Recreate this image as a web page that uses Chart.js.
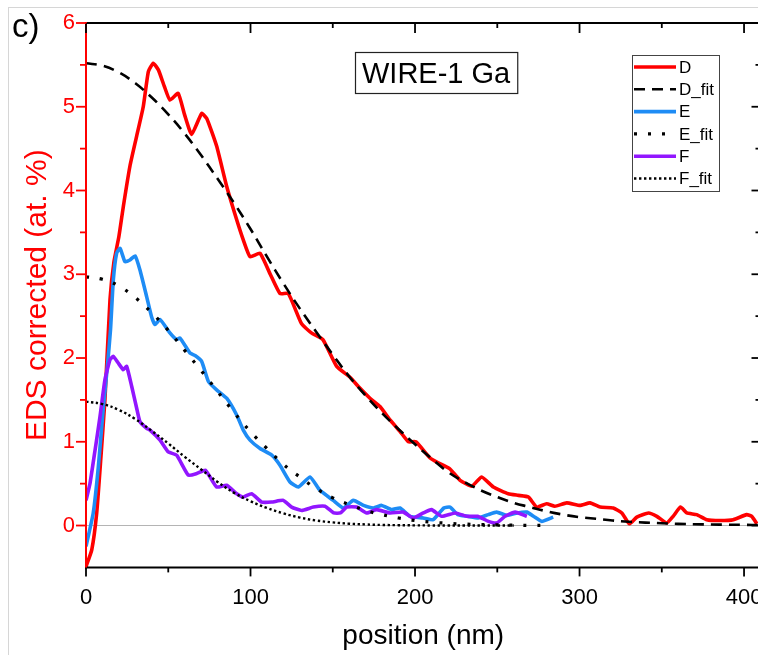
<!DOCTYPE html>
<html><head><meta charset="utf-8">
<script src="https://cdn.jsdelivr.net/npm/chart.js@4.4.1/dist/chart.umd.min.js"></script>
<style>
html,body{margin:0;padding:0;background:#fff;overflow:hidden;}
#wrap{position:relative;width:758px;height:655px;overflow:hidden;background:#fff;}
#frame{position:absolute;left:8px;top:7px;width:800px;height:700px;border-left:1px solid #d6d6d6;border-top:1px solid #d6d6d6;}
canvas{position:absolute;left:0;top:0;}
</style></head><body>
<div id="wrap"><div id="frame"></div><canvas id="c" width="766" height="655"></canvas></div>
<script>
// ---- data ----
const xTicks = [0, 100, 200, 300, 400];
const yTicks = [0, 1, 2, 3, 4, 5, 6];

const dPos = [0,3.5,6.5,9,11.5,14.6,17,20,22.7,26.7,30.8,34.8,37.9,40.9,44,47.5,51,56,60,64.2,70.3,73.4,79.4,85.5,91.6,95.6,99.7,105.8,112,117.9,123,131,137,144,152.4,160.5,166,172.6,178.7,184.8,191,196,200.5,209,213,221,227.4,234.5,240.5,247.6,256.7,262.8,268.9,274,280,285,292.2,300.3,306.4,312.5,320.5,325.7,330.3,334.8,341.9,347,353,356.9,361.4,365.2,371.2,377.3,385.4,393.5,401.6,404.7,407.8];
const dVal = [-0.49,-0.29,0.15,0.8,1.5,2.7,3.15,3.45,3.81,4.29,4.65,5.0,5.42,5.52,5.44,5.25,5.08,5.16,4.9,4.67,4.92,4.86,4.53,4.05,3.65,3.41,3.21,3.25,3.0,2.77,2.77,2.41,2.3,2.22,1.90,1.77,1.65,1.52,1.42,1.26,1.12,1.0,1.0,0.81,0.76,0.68,0.54,0.47,0.58,0.46,0.38,0.36,0.34,0.22,0.26,0.23,0.27,0.24,0.27,0.22,0.21,0.15,0.02,0.10,0.15,0.11,0.03,0.11,0.22,0.15,0.13,0.07,0.06,0.07,0.13,0.11,0.02];

const ePos = [0,4.4,7.5,10.5,13,14.9,16.6,18.6,20.7,23.7,26.7,29.8,32.8,36.9,39.9,41.9,45,51,55.1,57.1,63.2,66.3,70.3,74.4,79.4,85.5,91.6,95.6,99.7,105.8,112.9,117.9,124,129.1,136.2,142.2,150.3,156.4,162.5,168.7,174.7,179.8,185.8,190.9,197,205,211,217.5,221.3,226,232,238.5,244.5,249.6,256,262.1,268,272,277,284];
const eVal = [-0.25,0.15,0.70,1.4,1.9,2.34,2.93,3.25,3.31,3.15,3.17,3.22,3.05,2.73,2.49,2.40,2.46,2.30,2.22,2.24,2.06,2.03,1.96,1.72,1.62,1.52,1.32,1.14,1.02,0.92,0.84,0.72,0.52,0.46,0.58,0.42,0.30,0.21,0.30,0.24,0.21,0.24,0.19,0.21,0.11,0.09,0.07,0.21,0.22,0.13,0.11,0.09,0.13,0.16,0.12,0.15,0.16,0.11,0.05,0.10];

const fPos = [0,2.4,5.5,8.5,11.5,14.6,16.6,19.6,22.7,24.7,27.8,30.8,32.8,36.9,38.9,45,50,55.1,62.2,67.3,72.6,79.4,85.5,91.6,95.6,100.7,106.8,112.9,120,125,131.1,138.2,145.3,150.6,154.6,158.5,164.5,170.6,176.7,184.8,192.9,199,205,210,216.2,224.6,231.4,238,244.6,249.7,254.7,260.8,268];
const fVal = [0.30,0.50,0.90,1.30,1.74,1.98,2.02,1.94,1.86,1.90,1.66,1.40,1.24,1.16,1.14,1.02,0.88,0.84,0.60,0.62,0.66,0.46,0.48,0.38,0.34,0.38,0.28,0.28,0.30,0.22,0.18,0.22,0.23,0.15,0.15,0.22,0.22,0.15,0.19,0.15,0.16,0.09,0.15,0.19,0.11,0.15,0.11,0.11,0.05,0.03,0.11,0.16,0.11];

const dFitPos = [0,10,20,30,40,50,60,70,80,90,100,110,120,130,140,150,160,170,180,190,200,210,220,230,240,250,260,270,280,290,300,310,320,330,340,350,360,370,380,390,400,410];
const dFitVal = [5.52,5.49,5.41,5.28,5.11,4.91,4.68,4.42,4.14,3.85,3.54,3.21,2.89,2.59,2.31,2.04,1.78,1.55,1.34,1.15,0.97,0.80,0.64,0.52,0.42,0.34,0.27,0.22,0.17,0.13,0.10,0.08,0.06,0.045,0.035,0.028,0.02,0.015,0.012,0.01,0.008,0.006];

const eFitPos = [0,10,20,30,40,50,60,70,80,90,100,110,120,130,140,150,160,170,180,190,200,210,220,230,240,250,260,270,280];
const eFitVal = [2.97,2.94,2.86,2.72,2.54,2.33,2.09,1.85,1.60,1.35,1.12,0.92,0.73,0.58,0.44,0.33,0.25,0.18,0.13,0.09,0.06,0.04,0.027,0.017,0.011,0.007,0.004,0.002,0.001];

const fFitPos = [0,10,20,30,40,50,60,70,80,90,100,110,120,130,140,150,160,170,180,190,200,210,220,230,240,250,260];
const fFitVal = [1.48,1.45,1.38,1.27,1.13,0.98,0.82,0.67,0.52,0.39,0.29,0.21,0.145,0.095,0.06,0.037,0.022,0.013,0.007,0.004,0.002,0.001,0.001,0.0005,0.0003,0.0002,0.0001];

const seriesLabels = ['D', 'D_fit', 'E', 'E_fit', 'F', 'F_fit'];
const panelLabel = 'c)';
const boxTitle = 'WIRE-1 Ga';
const xTitle = 'position (nm)';
const yTitle = 'EDS corrected (at. %)';

// ---- chart ----
const FONT = '"Liberation Sans", Arial, Helvetica, sans-serif';
Chart.defaults.font.family = FONT;
const RED = '#ff0000', BLUE = '#1e8cf5', PURPLE = '#9216ff';
const mk = (xs, ys) => xs.map((v, i) => ({x: v, y: ys[i]}));

const decor = {
  id: 'decor',
  afterDraw(chart) {
    const {ctx, chartArea: a, scales: {x, y}} = chart;
    const line = (x1, y1, x2, y2) => { ctx.beginPath(); ctx.moveTo(x1, y1); ctx.lineTo(x2, y2); ctx.stroke(); };
    ctx.save();
    ctx.lineCap = 'butt';
    // axis frame: top / right / bottom black, left red
    ctx.strokeStyle = '#000'; ctx.lineWidth = 2;
    line(a.left, a.top, a.right + 1, a.top);
    line(a.right, a.top, a.right, a.bottom);
    line(a.left - 1, a.bottom, a.right + 1, a.bottom);
    ctx.strokeStyle = RED;
    line(a.left, a.top - 1, a.left, a.bottom + 1);
    // tick marks (top & right inward, bottom & left outward)
    ctx.lineWidth = 1.8;
    ctx.strokeStyle = '#000';
    for (let v = 0; v <= x.max; v += 50) {
      const px = x.getPixelForValue(v); const major = v % 100 === 0;
      line(px, a.top, px, a.top + (major ? 10 : 5));
      line(px, a.bottom, px, a.bottom + (major ? 9 : 5));
    }
    for (let v = 0; v <= 6; v += 0.5) {
      const py = y.getPixelForValue(v); const major = Number.isInteger(v);
      ctx.strokeStyle = '#000';
      line(a.right, py, a.right - (major ? 9 : 5), py);
      ctx.strokeStyle = RED;
      line(a.left, py, a.left - (major ? 10 : 6), py);
    }
    // panel label
    ctx.fillStyle = '#000';
    ctx.font = '33px ' + FONT; ctx.textBaseline = 'alphabetic'; ctx.textAlign = 'left';
    ctx.fillText(panelLabel, 12, 37);
    // boxed title
    ctx.font = '29px ' + FONT;
    const tw = ctx.measureText(boxTitle).width;
    const bx = 355, by = 52;
    ctx.strokeStyle = '#222'; ctx.lineWidth = 1.2;
    ctx.strokeRect(bx + 0.5, by + 0.5, tw + 14, 41);
    ctx.fillText(boxTitle, bx + 7, by + 31);
    // legend
    const lx = 632, ly = 55, lw = 87, lh = 136;
    ctx.strokeStyle = '#444'; ctx.lineWidth = 1;
    ctx.strokeRect(lx + 0.5, ly + 0.5, lw, lh);
    ctx.font = '17px ' + FONT; ctx.textBaseline = 'middle';
    chart.data.datasets.forEach((ds, i) => {
      const yy = ly + 12 + i * 22.3;
      ctx.strokeStyle = ds.borderColor; ctx.lineWidth = ds.borderWidth;
      ctx.setLineDash(ds.borderDash || []);
      line(lx + 2, yy, lx + 44, yy);
      ctx.setLineDash([]);
      ctx.fillStyle = '#000';
      ctx.fillText(ds.label, lx + 47, yy + 1);
    });
    ctx.restore();
  }
};

new Chart(document.getElementById('c'), {
  type: 'line',
  data: {
    datasets: [
      {label: seriesLabels[0], data: mk(dPos, dVal), borderColor: RED, borderWidth: 3.6, order: 3, tension: 0.15},
      {label: seriesLabels[1], data: mk(dFitPos, dFitVal), borderColor: '#000', borderWidth: 2.6, borderDash: [11, 7], order: 0, tension: 0.4},
      {label: seriesLabels[2], data: mk(ePos, eVal), borderColor: BLUE, borderWidth: 3.6, order: 2, tension: 0.15},
      {label: seriesLabels[3], data: mk(eFitPos, eFitVal), borderColor: '#000', borderWidth: 3.2, borderDash: [3, 11], order: 0, tension: 0.4},
      {label: seriesLabels[4], data: mk(fPos, fVal), borderColor: PURPLE, borderWidth: 3.6, order: 1, tension: 0.15},
      {label: seriesLabels[5], data: mk(fFitPos, fFitVal), borderColor: '#000', borderWidth: 2.4, borderDash: [2.4, 2.6], order: 0, tension: 0.4}
    ]
  },
  options: {
    responsive: false, animation: false, devicePixelRatio: 1,
    layout: {padding: {top: 23, right: 5.5, left: 0, bottom: 0}},
    elements: {point: {radius: 0}, line: {fill: false, borderCapStyle: 'butt', borderJoinStyle: 'round', capBezierPoints: true}},
    plugins: {legend: {display: false}, tooltip: {enabled: false}, title: {display: false}},
    scales: {
      x: {
        type: 'linear', min: 0, max: 410,
        afterBuildTicks: s => { s.ticks = xTicks.map(v => ({value: v})); },
        afterFit: s => { s.height = 87.6; s.paddingLeft = 0; s.paddingRight = 0; },
        grid: {display: false, drawTicks: false},
        border: {display: false},
        ticks: {color: '#000', font: {size: 22}, padding: 17, maxRotation: 0, autoSkip: false},
        title: {display: true, text: xTitle, color: '#000', font: {size: 28}, padding: {top: 0, bottom: 2}}
      },
      y: {
        type: 'linear', min: -0.5, max: 6,
        afterBuildTicks: s => { s.ticks = yTicks.map(v => ({value: v})); },
        afterFit: s => { s.width = 86; s.paddingTop = 0; s.paddingBottom = 0; },
        grid: {display: true, drawTicks: false, drawOnChartArea: true, lineWidth: 1,
               color: c => (c.tick && c.tick.value === 0) ? '#b4b4b4' : 'rgba(0,0,0,0)'},
        border: {display: false},
        ticks: {color: RED, font: {size: 22}, padding: 11, autoSkip: false},
        title: {display: true, text: yTitle, color: RED, font: {size: 30}, padding: {top: 20, bottom: 0}}
      }
    }
  },
  plugins: [decor]
});
</script></body></html>
